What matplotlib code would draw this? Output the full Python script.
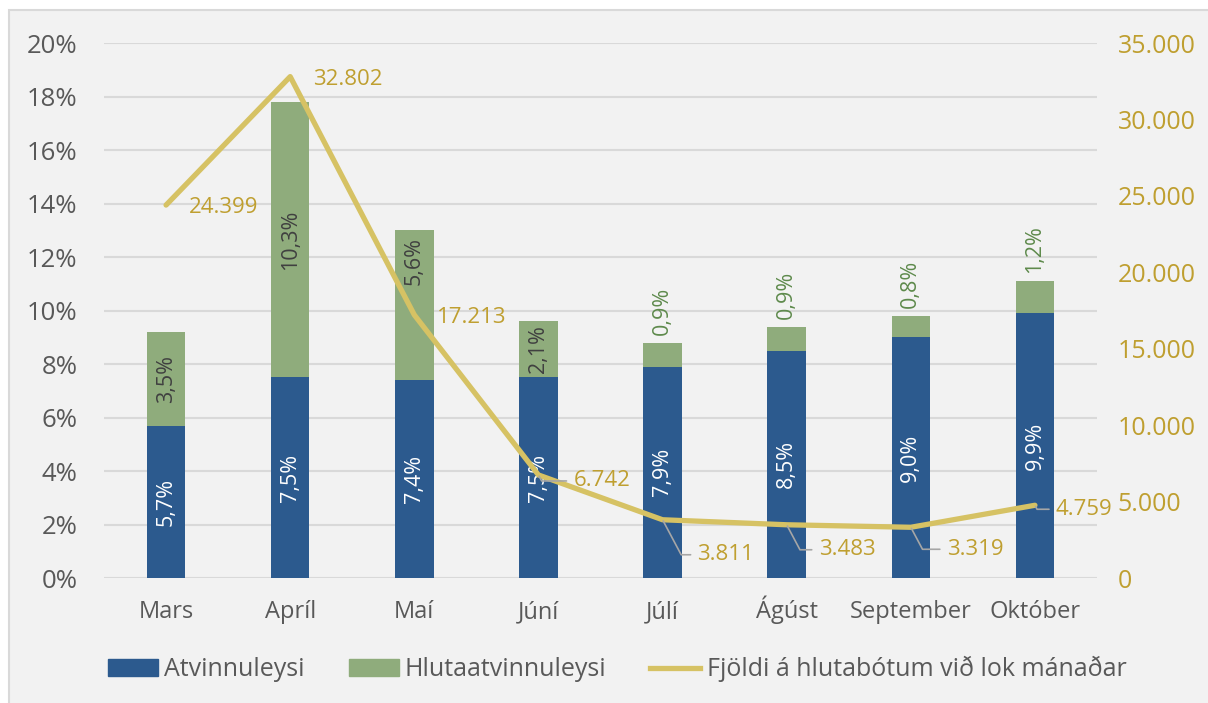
import matplotlib.pyplot as plt
import numpy as np
from matplotlib.patches import Patch, Rectangle
from matplotlib.lines import Line2D
from matplotlib.ticker import FuncFormatter

plt.rcParams['font.family'] = ['Open Sans', 'DejaVu Sans']

months = ["Mars", "Apríl", "Maí", "Júní", "Júlí", "Ágúst", "September", "Október"]
atvinnuleysi = [5.7, 7.5, 7.4, 7.5, 7.9, 8.5, 9.0, 9.9]
hluta = [3.5, 10.3, 5.6, 2.1, 0.9, 0.9, 0.8, 1.2]
fjoldi = [24399, 32802, 17213, 6742, 3811, 3483, 3319, 4759]

blue = '#2c5a8e'
green = '#8fac7c'
gold = '#d6c264'
gold_txt = '#bf9f30'
grey = '#595959'

fig = plt.figure(figsize=(12.08, 7.03), dpi=100)
fig.patch.set_facecolor('white')
fig.add_artist(Rectangle((9 / 1208, -0.01), 1.0, 1 - 10 / 703 + 0.01, transform=fig.transFigure,
                         facecolor='#f2f2f2', edgecolor='#d9d9d9', lw=1.5, zorder=-10))

ax = fig.add_axes([0.0861, 0.1778, 0.822, 0.761])
ax.set_facecolor('none')
x = np.arange(len(months))
w = 0.31

ax.bar(x, atvinnuleysi, w, color=blue, zorder=2)
ax.bar(x, hluta, w, bottom=atvinnuleysi, color=green, zorder=2)

def pct(v):
    return ('%.1f%%' % v).replace('.', ',')

# the Maí label was moved up in the original to keep it off the line
inner_shift = [0, 0, 44, 0, 0, 0, 0, 0]
for i in range(len(x)):
    ax.text(x[i], atvinnuleysi[i] / 2, pct(atvinnuleysi[i]), rotation=90, ha='center', va='center',
            color='white', fontsize=15.5, zorder=3)
    if hluta[i] >= 1.5:
        ax.annotate(pct(hluta[i]), (x[i], atvinnuleysi[i] + hluta[i] / 2), xytext=(0, inner_shift[i]),
                    textcoords='offset pixels', rotation=90, ha='center', va='center',
                    color='#404040', fontsize=15.5, zorder=3)
    else:
        ax.annotate(pct(hluta[i]), (x[i], atvinnuleysi[i] + hluta[i]), xytext=(0, 8),
                    textcoords='offset pixels', rotation=90, ha='center', va='bottom',
                    color='#5e8a4c', fontsize=15.5, zorder=3)

ax.set_xlim(-0.5, len(x) - 0.5)
ax.set_ylim(0, 20)
ax.set_yticks(np.arange(0, 21, 2))
ax.yaxis.set_major_formatter(FuncFormatter(lambda v, p: '%d%%' % v))
ax.set_xticks(x)
ax.set_xticklabels(months)
ax.tick_params(axis='x', length=0, pad=29, labelsize=17, colors=grey)
for t in ax.get_xticklabels():
    t.set_va('baseline')
ax.tick_params(axis='y', length=0, pad=19, labelsize=18.5, colors=grey)
ax.grid(axis='y', color='#d9d9d9', lw=1.5, zorder=0)
ax.set_axisbelow(True)
for s in ax.spines.values():
    s.set_visible(False)

ax2 = ax.twinx()
ax2.plot(x, fjoldi, color=gold, lw=3.8, solid_capstyle='round', zorder=4)
ax2.set_ylim(0, 35000)
ax2.set_yticks(np.arange(0, 35001, 5000))
ax2.yaxis.set_major_formatter(FuncFormatter(lambda v, p: '{:,.0f}'.format(v).replace(',', '.')))
ax2.tick_params(axis='y', length=0, pad=15, labelsize=18, colors=gold_txt)
for s in ax2.spines.values():
    s.set_visible(False)

# label offsets (pixels) and whether a leader line is drawn
offsets = [(23, -2), (23, -3), (23, -3), (35, -6), (35, -35), (32, -25), (36, -22), (21, -4)]
leaders = [False, False, False, True, True, True, True, True]
for i in range(len(x)):
    lab = '{:,.0f}'.format(fjoldi[i]).replace(',', '.')
    kw = {}
    if leaders[i]:
        kw['arrowprops'] = dict(arrowstyle='-', color='#a6a6a6', lw=1.2, relpos=(0, 0.5),
                                shrinkA=3, shrinkB=1,
                                connectionstyle='angle,angleA=0,angleB=-62,rad=0')
    ax2.annotate(lab, (x[i], fjoldi[i]), xytext=offsets[i], textcoords='offset pixels',
                 ha='left', va='center', color=gold_txt, fontsize=16, zorder=5, **kw)

handles = [Patch(color=blue), Patch(color=green), Line2D([0], [0], color=gold, lw=3.8)]
fig.legend(handles, ["Atvinnuleysi", "Hlutaatvinnuleysi", "Fjöldi á hlutabótum við lok mánaðar"],
           loc='center', bbox_to_anchor=(0.511, 0.048), ncol=3, frameon=False, fontsize=18,
           labelcolor=grey, handlelength=2.0, handleheight=0.65, handletextpad=0.25, columnspacing=1.75)

fig.savefig('out.png', dpi=100)
